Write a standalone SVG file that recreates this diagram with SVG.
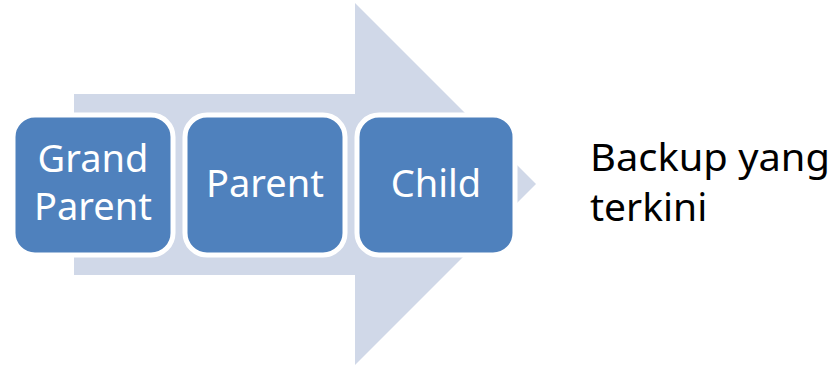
<svg xmlns="http://www.w3.org/2000/svg" width="836" height="365" viewBox="0 0 836 365">
  <style>
    .box { fill: #4F81BD; stroke: #FFFFFF; stroke-width: 5; }
    .lbl { font-family: "Noto Sans", "Open Sans", sans-serif; font-size: 38px; fill: #FFFFFF; text-anchor: middle; }
    .note { font-family: "Noto Sans", "Open Sans", sans-serif; font-size: 39px; fill: #000000; }
  </style>
  <rect width="836" height="365" fill="#FFFFFF"/>
  <g id="connectors">
    <polygon points="74,94 355,94 355,3 536,184 355,365 355,275 74,275" fill="#D0D8E8"/>
  </g>
  <g id="grandparent">
    <rect class="box" x="13" y="115" width="160" height="140" rx="22" ry="22"/>
    <text class="lbl" x="93" y="172">Grand</text>
    <text class="lbl" x="93" y="220">Parent</text>
  </g>
  <g id="parent">
    <rect class="box" x="185" y="115" width="160" height="140" rx="22" ry="22"/>
    <text class="lbl" x="265" y="197">Parent</text>
  </g>
  <g id="child">
    <rect class="box" x="357" y="115" width="158" height="140" rx="22" ry="22"/>
    <text class="lbl" x="436" y="197">Child</text>
  </g>
  <g id="note">
    <text class="note" x="590" y="171" textLength="240" lengthAdjust="spacingAndGlyphs">Backup yang</text>
    <text class="note" x="590" y="221">terkini</text>
  </g>
</svg>
